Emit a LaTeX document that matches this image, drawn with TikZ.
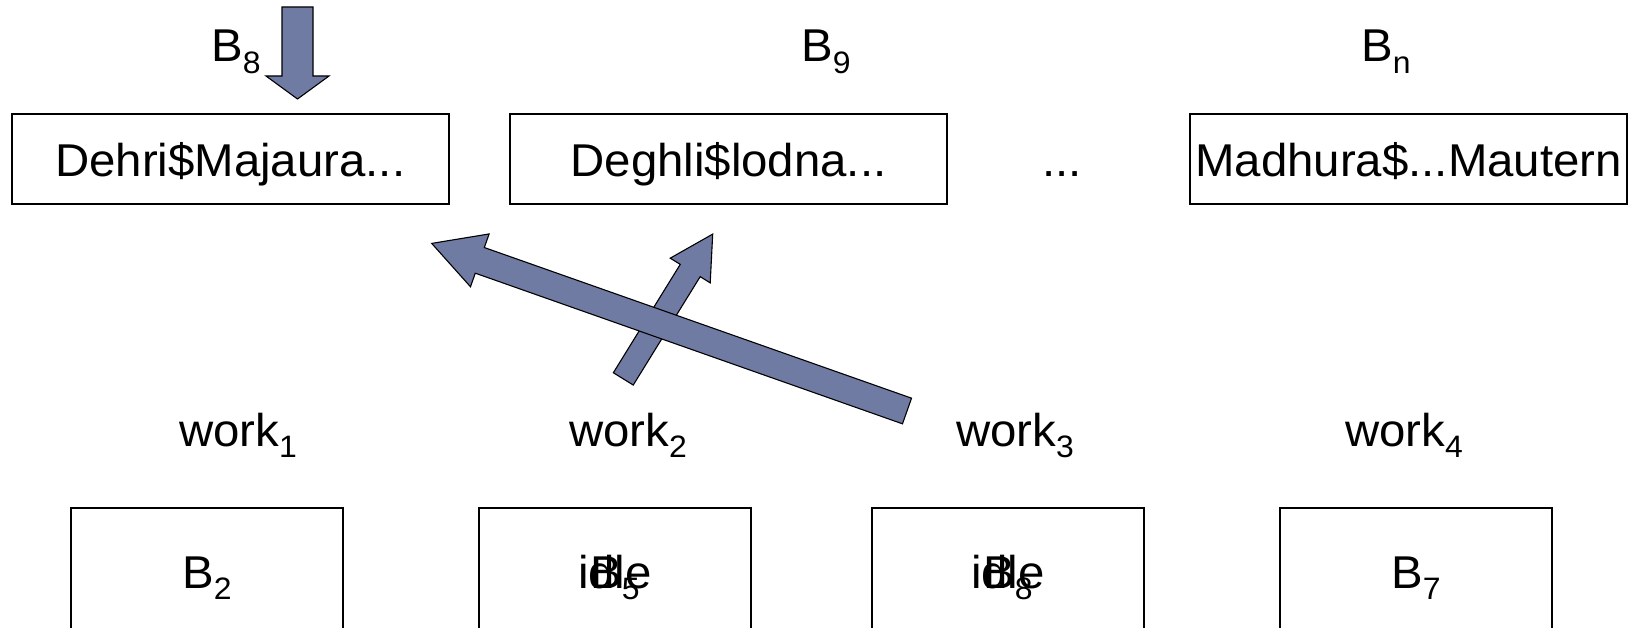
\documentclass[tikz,border=0pt]{standalone}
\usepackage{fontspec}
\setmainfont{Liberation Sans}[FakeStretch=1.03]
\usetikzlibrary{calc}
\definecolor{arrowfill}{RGB}{112,123,163}
\newcommand\sbs[1]{\raisebox{-0.25em}{\fontsize{31}{31}\selectfont #1}}
% block arrow: tail, tip, half shaft width, half head width, head length
\newcommand\fatarrow[5]{%
  \coordinate (hb) at ($(#2)!#5!(#1)$);
  \draw[fatarrow] ($(#1)!#3!90:(#2)$) -- ($(hb)!#3!90:(#2)$) -- ($(hb)!#4!90:(#2)$)
    -- (#2) -- ($(hb)!#4!-90:(#2)$) -- ($(hb)!#3!-90:(#2)$) -- ($(#1)!#3!-90:(#2)$) -- cycle;
}
\begin{document}
\begin{tikzpicture}[x=1pt,y=-1pt,
  every node/.style={font=\fontsize{46}{52}\selectfont, inner sep=0pt},
  topbox/.style={draw, line width=1.5pt, minimum width=437pt, minimum height=90pt,
    text height=36pt, text depth=0pt},
  lowbox/.style={draw, line width=1.5pt, minimum width=272pt, minimum height=160pt,
    text height=0pt, text depth=0pt},
  lbl/.style={anchor=base},
  fatarrow/.style={draw=black, line width=1.1pt, fill=arrowfill, line join=miter}]
\clip (0,0) rectangle (1633,628);
\fill[white] (0,0) rectangle (1633,628);

% upper row of blocks
\node[topbox] (t1) at (230.25,159) {Dehri\$Majaura...};
\node[topbox] (t2) at (728.5,159) {Deghli\$lodna...};
\node[lbl] (dots) at (1062,177) {...};
\node[topbox] (t3) at (1408.5,159) {Madhura\$...Mautern};

\node[lbl] (l8) at (236,62) {B\sbs{8}};
\node[lbl] (l9) at (826,62) {B\sbs{9}};
\node[lbl] (ln) at (1386,62) {B\sbs{n}};

% workers
\node[lbl] (w1) at (238,446) {work\sbs{1}};
\node[lbl] (w2) at (628,446) {work\sbs{2}};
\node[lbl] (w3) at (1015,446) {work\sbs{3}};
\node[lbl] (w4) at (1404,446) {work\sbs{4}};

% lower row of blocks
\node[lowbox] (b1) at (207,588) {B\sbs{2}};
\node[lowbox] (b2) at (615,588) {idle};
\node[lbl] (b2x) at (b2.center) {B\sbs{5}};
\node[lowbox] (b3) at (1008,588) {idle};
\node[lbl] (b3x) at (b3.center) {B\sbs{8}};
\node[lowbox] (b4) at (1416,588) {B\sbs{7}};

% block arrows
\coordinate (inT) at (297.5,7);
\coordinate (inH) at (297.5,99);
\fatarrow{inT}{inH}{15.5pt}{31.5pt}{23pt}
\coordinate (sT) at (623.3,378.9);
\coordinate (sH) at (712.7,234.1);
\fatarrow{sT}{sH}{11.7pt}{23.5pt}{42.8pt}
\coordinate (gT) at (907,411);
\coordinate (gH) at (431.7,243.4);
\fatarrow{gT}{gH}{13.6pt}{28pt}{51pt}
\end{tikzpicture}
\end{document}
